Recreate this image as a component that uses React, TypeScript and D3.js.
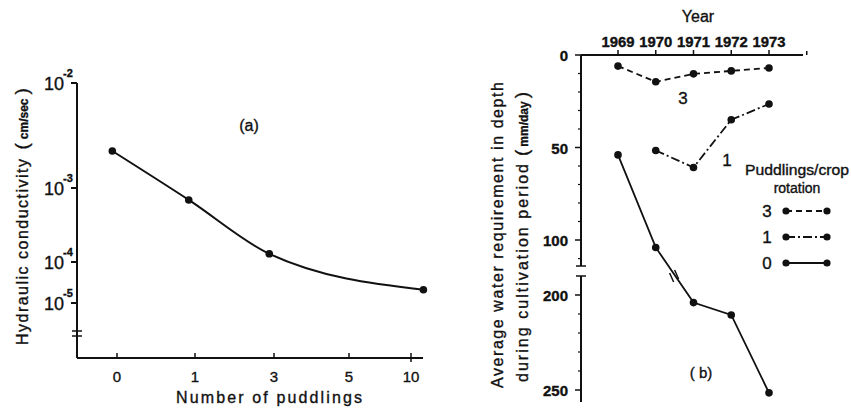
import React from 'react';
import * as d3 from 'd3';

// panel (a): hydraulic conductivity vs number of puddlings
const puddlingTicks = [0, 1, 3, 5, 10];
const puddlingTickLabels = ['0', '1', '3', '5', '10'];
const puddlingX = [-0.06, 0.92, 2.88, 11.0];
const conductivity = [2.25e-3, 6.9e-4, 1.29e-4, 2.1e-5];
const conductivityExp = [-2, -3, -4, -5];

// panel (b): water requirement by year
const years = [1969, 1970, 1971, 1972, 1973];
const depth3 = [6, 14.5, 10.2, 8.6, 7];
const depth1 = [null, 51.6, 60.8, 35, 26.5];
const depth0 = [54, 104, 204, 210.5, 251.5];
const depthTicks = [0, 50, 100, 200, 250];
const depthMinor = [10, 20, 30, 40, 60, 70, 80, 90, 110, 210, 220, 230, 240];
const legendLabels = ['3', '1', '0'];

const font = "'Liberation Sans', Arial, sans-serif";
const ink = '#111';

const App = () => {
  // --- panel (a) scales
  const xA = d3.scaleLinear().domain(puddlingTicks).range([117, 195, 274, 349, 411]);
  const yA = d3.scaleLinear().domain([-5, -4, -3, -2]).range([303, 262, 188, 83]);
  const lineA = d3
    .line<number>()
    .x((_, i) => xA(puddlingX[i]))
    .y((d) => yA(Math.log10(d)))
    .curve(d3.curveMonotoneX);

  // --- panel (b) scales
  const xB = d3.scaleLinear().domain([1969, 1973]).range([618, 769]);
  const yB = d3.scaleLinear().domain([0, 100, 114, 190, 250]).range([55, 240, 266, 276, 390]);

  const series = [
    { key: '3', values: depth3, dash: '6,4' },
    { key: '1', values: depth1, dash: '9,3,2,3' },
    { key: '0', values: depth0, dash: null },
  ];
  const lineB = d3
    .line<number | null>()
    .defined((d) => d !== null)
    .x((_, i) => xB(years[i]))
    .y((d) => yB(d as number));

  // break marker on the solid line between 1970 and 1971
  const bx = (xB(1970) + xB(1971)) / 2;
  const by = (yB(depth0[1]) + yB(depth0[2])) / 2;

  return (
    <svg
      width={851}
      height={411}
      style={{ position: 'absolute', left: 0, top: 0, display: 'block' }}
      fontFamily={font}
    >
      <rect width={851} height={411} fill="#fff" />

      {/* ================= panel (a) ================= */}
      <g stroke={ink} strokeWidth={2} fill="none">
        <line x1={77} y1={83} x2={77} y2={358} />
        <line x1={77} y1={358} x2={423} y2={358} />
        {conductivityExp.map((e) => (
          <line key={e} x1={71} y1={yA(e)} x2={77} y2={yA(e)} />
        ))}
        {/* axis break */}
        <line x1={72} y1={331} x2={82} y2={331} strokeWidth={1.5} />
        <line x1={72} y1={336} x2={82} y2={336} strokeWidth={1.5} />
        {puddlingTicks.map((t) => (
          <line key={t} x1={xA(t)} y1={353} x2={xA(t)} y2={t === 10 ? 362 : 358} strokeWidth={1.5} />
        ))}
        <path d={lineA(conductivity) ?? ''} />
      </g>
      {conductivity.map((d, i) => (
        <circle key={i} cx={xA(puddlingX[i])} cy={yA(Math.log10(d))} r={3.8} fill={ink} />
      ))}
      <g fill={ink} stroke={ink} strokeWidth={0.35}>
        {conductivityExp.map((e) => (
          <g key={e}>
            <text x={64} y={yA(e) + 7} fontSize={18} textAnchor="end">10</text>
            <text x={63} y={yA(e) - 6} fontSize={11} fontWeight="bold">{`-${-e}`}</text>
          </g>
        ))}
        {puddlingTicks.map((t, i) => (
          <text key={t} x={xA(t)} y={382} fontSize={15} textAnchor="middle">
            {puddlingTickLabels[i]}
          </text>
        ))}
        <text x={269} y={403} fontSize={16} textAnchor="middle" textLength={186} lengthAdjust="spacing">
          Number of puddlings
        </text>
        <text transform="translate(28,345) rotate(-90)" fontSize={16}>
          <tspan textLength={186} lengthAdjust="spacing">Hydraulic conductivity</tspan>
          <tspan fontSize={19} dx={8}>(</tspan>
          <tspan fontSize={12} fontWeight="bold" dx={4}>cm/sec</tspan>
          <tspan fontSize={19} dx={4}>)</tspan>
        </text>
        <text x={249} y={131} fontSize={16} textAnchor="middle">(a)</text>
      </g>

      {/* ================= panel (b) ================= */}
      <g stroke={ink} strokeWidth={2} fill="none">
        <line x1={581} y1={55} x2={803} y2={55} />
        <line x1={581} y1={55} x2={581} y2={yB(114)} />
        <line x1={581} y1={yB(190)} x2={581} y2={402} />
        <line x1={576} y1={yB(114)} x2={586} y2={yB(114)} strokeWidth={1.5} />
        <line x1={576} y1={yB(190)} x2={586} y2={yB(190)} strokeWidth={1.5} />
        {years.map((y) => (
          <line key={y} x1={xB(y)} y1={50} x2={xB(y)} y2={55} strokeWidth={1.5} />
        ))}
        <line x1={xB(1974)} y1={51} x2={xB(1974)} y2={55} strokeWidth={1.5} />
        {depthTicks.map((t) => (
          <line key={t} x1={575} y1={yB(t)} x2={581} y2={yB(t)} strokeWidth={1.5} />
        ))}
        {depthMinor.map((t) => (
          <line key={t} x1={578} y1={yB(t)} x2={581} y2={yB(t)} strokeWidth={1.2} />
        ))}
        {series.map((s) => (
          <path
            key={s.key}
            d={lineB(s.values) ?? ''}
            strokeWidth={1.8}
            strokeDasharray={s.dash ?? undefined}
          />
        ))}
        {/* break marker on line 0 */}
        <line x1={bx - 5} y1={by - 2} x2={bx - 1} y2={by + 7} strokeWidth={1.5} />
        <line x1={bx + 0} y1={by - 5} x2={bx + 4} y2={by + 4} strokeWidth={1.5} />
      </g>
      {series.map((s) =>
        s.values.map((v, i) =>
          v === null ? null : (
            <circle key={`${s.key}-${i}`} cx={xB(years[i])} cy={yB(v)} r={3.8} fill={ink} />
          )
        )
      )}
      <g fill={ink} stroke={ink} strokeWidth={0.35}>
        {years.map((y) => (
          <text key={y} x={xB(y)} y={47} fontSize={14} fontWeight="bold" textAnchor="middle" textLength={33} lengthAdjust="spacingAndGlyphs">
            {y}
          </text>
        ))}
        <text x={698} y={22} fontSize={16} textAnchor="middle">Year</text>
        {depthTicks.map((t) => (
          <text key={t} x={568} y={yB(t) + 6} fontSize={15} fontWeight="bold" textAnchor="end">
            {t}
          </text>
        ))}
        <text transform="translate(503,388) rotate(-90)" fontSize={16} textLength={306} lengthAdjust="spacing">
          Average water requirement in depth
        </text>
        <text transform="translate(528,382) rotate(-90)" fontSize={16}>
          <tspan textLength={218} lengthAdjust="spacing">during cultivation period</tspan>
          <tspan fontSize={19} dx={6}>(</tspan>
          <tspan fontSize={12} fontWeight="bold" dx={3}>mm/day</tspan>
          <tspan fontSize={19} dx={3}>)</tspan>
        </text>
        <text x={683} y={104} fontSize={17} textAnchor="middle">3</text>
        <text x={727} y={166} fontSize={17} textAnchor="middle">1</text>
        <text x={701} y={378} fontSize={15} textAnchor="middle">( b)</text>

        {/* legend titles */}
        <text x={797} y={175} fontSize={14} textAnchor="middle" textLength={104} lengthAdjust="spacingAndGlyphs">Puddlings/crop</text>
        <text x={797} y={193} fontSize={14} textAnchor="middle">rotation</text>
      </g>
      {series.map((s, i) => {
        const ly = 211 + i * 26;
        return (
          <g key={s.key}>
            <text x={767} y={ly + 6} fontSize={17} textAnchor="middle" fill={ink} stroke={ink} strokeWidth={0.35}>
              {legendLabels[i]}
            </text>
            <line x1={786} y1={ly} x2={827} y2={ly} stroke={ink} strokeWidth={1.8} strokeDasharray={s.dash ?? undefined} />
            <circle cx={786} cy={ly} r={3.6} fill={ink} />
            <circle cx={827} cy={ly} r={3.6} fill={ink} />
          </g>
        );
      })}
    </svg>
  );
};

export default App;
